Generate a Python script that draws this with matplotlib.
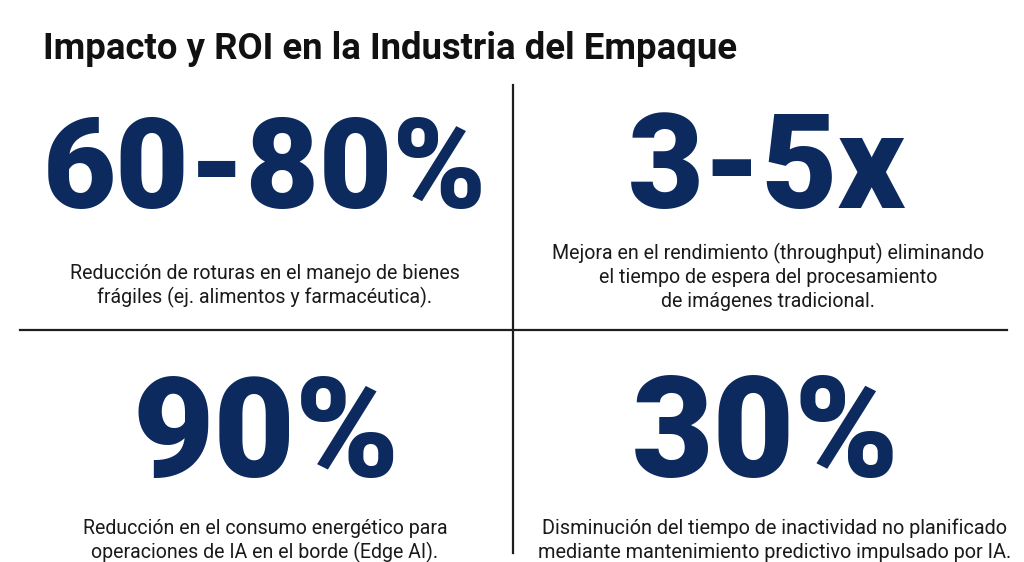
import matplotlib
matplotlib.use("Agg")
import matplotlib.pyplot as plt
from matplotlib.lines import Line2D

# contenido de la infografía
title = "Impacto y ROI en la Industria del Empaque"
big_values = ["60-80%", "3-5x", "90%", "30%"]
descriptions = [
    ["Reducción de roturas en el manejo de bienes",
     "frágiles (ej. alimentos y farmacéutica)."],
    ["Mejora en el rendimiento (throughput) eliminando",
     "el tiempo de espera del procesamiento",
     "de imágenes tradicional."],
    ["Reducción en el consumo energético para",
     "operaciones de IA en el borde (Edge AI)."],
    ["Disminución del tiempo de inactividad no planificado",
     "mediante mantenimiento predictivo impulsado por IA."],
]

W, H = 1024, 562
navy = "#0c2a5e"
plt.rcParams['font.family'] = ['Roboto', 'DejaVu Sans']

fig = plt.figure(figsize=(W / 100, H / 100), dpi=100)
fig.patch.set_facecolor("white")
renderer = fig.canvas.get_renderer()


def px(x, y):
    return x / W, 1 - y / H


def fit_text(s, x, y, width, size, **kw):
    # place the text, then rescale the font so it spans the wanted width
    t = fig.text(*px(x, y), s, fontsize=size, **kw)
    w = t.get_window_extent(renderer).width
    t.set_fontsize(size * width / w)
    return t


# title
fit_text(title, 43, 59, 692, 28, ha="left", va="baseline",
         weight="bold", color="#111111")

# panel centres (x) and baselines of the big figures
centres_x = [265, 767, 266, 766]
value_base = [208, 208, 477, 477]
value_width = [444, 278, 267, 268]
for s, cx, by, wd in zip(big_values, centres_x, value_base, value_width):
    fit_text(s, cx, by, wd, 100, ha="center", va="baseline",
             weight="black", color=navy)

# descriptive text, one line at a time
desc_x = [265, 768, 265, 775]
desc_y = [[279, 303], [259, 283, 307], [534, 558], [534, 558]]
line_w = [[394, 332], [436, 0, 0], [367, 0], [470, 0]]
for lines, cx, ys, ws in zip(descriptions, desc_x, desc_y, line_w):
    first = fit_text(lines[0], cx, ys[0], ws[0], 14, ha="center",
                     va="baseline", color="#1a1a1a")
    fs = first.get_fontsize()
    for s, yy in zip(lines[1:], ys[1:]):
        fig.text(*px(cx, yy), s, fontsize=fs, ha="center",
                 va="baseline", color="#1a1a1a")

# dividing lines
fig.add_artist(Line2D([513 / W, 513 / W], [1 - 85 / H, 1 - 553 / H],
                      color="#1e1e1e", lw=1.6))
fig.add_artist(Line2D([20 / W, 1007 / W], [1 - 330 / H, 1 - 330 / H],
                      color="#1e1e1e", lw=1.6))

fig.savefig("out.png", dpi=100, facecolor="white")
